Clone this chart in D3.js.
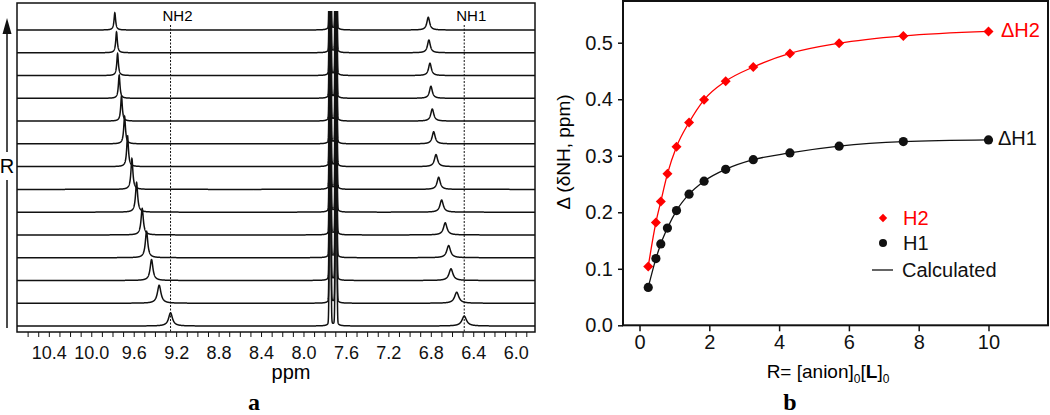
<!DOCTYPE html>
<html>
<head>
<meta charset="utf-8">
<script src="https://cdn.jsdelivr.net/npm/d3@7"></script>
<style>
  body { margin: 0; background: #fff; }
  text { font-family: "Liberation Sans", Arial, sans-serif; }
</style>
</head>
<body>
<div id="chart"></div>
<script>
// ---- panel a : 1H NMR titration spectra (bottom trace = free ligand, R grows upward)
var nh2Shift  = [9.253, 9.360, 9.432, 9.479, 9.520, 9.573, 9.617, 9.658, 9.686, 9.715, 9.737, 9.752, 9.762, 9.778];
var nh2Height = [0.60, 0.82, 0.95, 1.20, 1.20, 1.35, 1.40, 1.40, 1.25, 1.15, 1.05, 1.00, 0.95, 0.78];
var nh2Width  = [0.022, 0.020, 0.016, 0.014, 0.013, 0.012, 0.011, 0.010, 0.010, 0.009, 0.009, 0.009, 0.009, 0.009];
var nh1Shift  = [6.485, 6.556, 6.610, 6.632, 6.664, 6.698, 6.726, 6.751, 6.773, 6.786, 6.799, 6.808, 6.818, 6.824];
var nh1Height = [0.45, 0.50, 0.53, 0.55, 0.55, 0.55, 0.55, 0.55, 0.55, 0.55, 0.55, 0.56, 0.58, 0.58];
var nh1Width  = [0.026, 0.024, 0.022, 0.021, 0.020, 0.019, 0.018, 0.018, 0.017, 0.017, 0.016, 0.016, 0.016, 0.016];
// strong aromatic doublet, the same in every trace (tall narrow core + small broad foot)
var arShift     = [7.749, 7.693];
var arHeight    = 15;
var arSigma     = 0.0056;
var arFoot      = 0.25;
var arFootWidth = 0.016;
var ppmLabels = [10.4, 10.0, 9.6, 9.2, 8.8, 8.4, 8.0, 7.6, 7.2, 6.8, 6.4, 6.0];

// ---- panel b : titration curves
var ratio   = [0.25, 0.47, 0.61, 0.80, 1.06, 1.42, 1.85, 2.47, 3.26, 4.31, 5.72, 7.56, 10.0];
var deltaH2 = [0.104, 0.182, 0.219, 0.268, 0.316, 0.359, 0.399, 0.432, 0.457, 0.481, 0.499, 0.512, 0.520];
var deltaH1 = [0.067, 0.118, 0.144, 0.172, 0.203, 0.232, 0.255, 0.276, 0.293, 0.305, 0.317, 0.325, 0.328];
var xTicks  = [0, 2, 4, 6, 8, 10];
var yTicks  = [0.0, 0.1, 0.2, 0.3, 0.4, 0.5];

var svg = d3.select("#chart").append("svg")
    .attr("width", 1050)
    .attr("height", 415);

// ================= panel a =================
var ax = d3.scaleLinear().domain([10.70, 5.818]).range([17, 535]);
var base = d3.scaleLinear().domain([0, 13]).range([326, 30]);   // baseline of each trace
var amp = d3.scaleLinear().domain([0, 1]).range([0, 22]);        // intensity -> px

svg.append("clipPath").attr("id", "specClip")
    .append("rect").attr("x", 17).attr("y", 11).attr("width", 518).attr("height", 321);

// sample points along ppm axis
var samples = d3.range(17, 535.01, 0.1).map(function (px) { return ax.invert(px); });

function lor(x, c, h, w) {
    var d = (x - c) / w;
    return h / (1 + d * d);
}
function gau(x, c, h, s) {
    var d = (x - c) / s;
    return h * Math.exp(-0.5 * d * d);
}

var spec = svg.append("g").attr("clip-path", "url(#specClip)");

nh2Shift.forEach(function (s, i) {
    var pts = samples.map(function (p) {
        var I = lor(p, s, nh2Height[i], nh2Width[i]) +
                lor(p, nh1Shift[i], nh1Height[i], nh1Width[i]);
        arShift.forEach(function (c) {
            I += gau(p, c, arHeight, arSigma) + lor(p, c, arFoot, arFootWidth);
        });
        return [ax(p), base(i) - amp(I)];
    });
    spec.append("path")
        .attr("d", d3.line()(pts))
        .attr("fill", "none")
        .attr("stroke", "#111")
        .attr("stroke-width", 1.5);
});

// dashed reference lines at free-ligand NH positions
[{ppm: nh2Shift[0], name: "NH2"}, {ppm: nh1Shift[0], name: "NH1"}].forEach(function (d) {
    svg.append("line")
        .attr("x1", ax(d.ppm)).attr("x2", ax(d.ppm))
        .attr("y1", 25).attr("y2", 332)
        .attr("stroke", "#111").attr("stroke-width", 1)
        .attr("stroke-dasharray", "2,1.5");
    svg.append("text")
        .attr("x", ax(d.ppm) - 8).attr("y", 21)
        .style("font-size", "15px")
        .text(d.name);
});

// frame
svg.append("rect")
    .attr("x", 17).attr("y", 3).attr("width", 518).attr("height", 329)
    .attr("fill", "none").attr("stroke", "#111").attr("stroke-width", 1.5);

// bottom axis: minor ticks every 0.1 ppm, labels every 0.4
svg.append("g")
    .attr("transform", "translate(0,332)")
    .call(d3.axisBottom(ax).tickValues(d3.range(59, 107).map(function (v) { return v / 10; }))
        .tickSize(5).tickFormat(""))
    .call(function (g) { g.select(".domain").remove(); g.selectAll("line").attr("stroke", "#111"); });

svg.append("g")
    .attr("transform", "translate(0,332)")
    .call(d3.axisBottom(ax).tickValues(ppmLabels).tickSize(0).tickPadding(14).tickFormat(d3.format(".1f")))
    .call(function (g) {
        g.select(".domain").remove();
        g.selectAll("text").attr("fill", "#111").style("font-size", "18px")
            .style("font-family", "Liberation Sans, Arial, sans-serif");
    });

svg.append("text").attr("x", 291).attr("y", 379).attr("text-anchor", "middle")
    .style("font-size", "20px").text("ppm");

// R arrow on the left
svg.append("line").attr("x1", 7).attr("x2", 7).attr("y1", 30).attr("y2", 152)
    .attr("stroke", "#111").attr("stroke-width", 1.5);
svg.append("line").attr("x1", 7).attr("x2", 7).attr("y1", 180).attr("y2", 328)
    .attr("stroke", "#111").attr("stroke-width", 1.5);
svg.append("path").attr("d", "M7,18 L2.5,34 L11.5,34 Z").attr("fill", "#111");
svg.append("text").attr("x", 7).attr("y", 173).attr("text-anchor", "middle")
    .style("font-size", "20px").text("R");

svg.append("text").attr("x", 254).attr("y", 410).attr("text-anchor", "middle")
    .style("font-family", "Liberation Serif, serif").style("font-weight", "bold")
    .style("font-size", "24px").text("a");

// ================= panel b =================
var bx = d3.scaleLinear().domain([-0.473, 11.705]).range([623, 1048]);
var by = d3.scaleLinear().domain([0, 0.5738]).range([325.3, 1]);

var curve = d3.line()
    .x(function (d) { return bx(d[0]); })
    .y(function (d) { return by(d[1]); })
    .curve(d3.curveMonotoneX);

var h2 = ratio.map(function (r, i) { return [r, deltaH2[i]]; });
var h1 = ratio.map(function (r, i) { return [r, deltaH1[i]]; });

svg.append("path").attr("d", curve(h2)).attr("fill", "none")
    .attr("stroke", "#ff0000").attr("stroke-width", 1.3);
svg.append("path").attr("d", curve(h1)).attr("fill", "none")
    .attr("stroke", "#111").attr("stroke-width", 1.3);

var diamond = d3.symbol().type(d3.symbolDiamond2).size(64);

svg.selectAll("h2pts").data(h2).enter()
    .append("path")
    .attr("d", diamond)
    .attr("transform", function (d) { return "translate(" + bx(d[0]) + "," + by(d[1]) + ")"; })
    .attr("fill", "#ff0000");

svg.selectAll("h1pts").data(h1).enter()
    .append("circle")
    .attr("cx", function (d) { return bx(d[0]); })
    .attr("cy", function (d) { return by(d[1]); })
    .attr("r", 4.6)
    .attr("fill", "#111");

// frame
svg.append("rect")
    .attr("x", 623).attr("y", 1).attr("width", 425).attr("height", 324.3)
    .attr("fill", "none").attr("stroke", "#111").attr("stroke-width", 2);

svg.append("g")
    .attr("transform", "translate(0,325.3)")
    .call(d3.axisBottom(bx).tickValues(xTicks).tickSize(6).tickPadding(4).tickFormat(d3.format("d")))
    .call(function (g) {
        g.select(".domain").remove();
        g.selectAll("line").attr("stroke", "#111").attr("stroke-width", 1.5);
        g.selectAll("text").attr("fill", "#111").style("font-size", "20px")
            .style("font-family", "Liberation Sans, Arial, sans-serif");
    });

svg.append("g")
    .attr("transform", "translate(623,0)")
    .call(d3.axisLeft(by).tickValues(yTicks).tickSize(5).tickPadding(5).tickFormat(d3.format(".1f")))
    .call(function (g) {
        g.select(".domain").remove();
        g.selectAll("line").attr("stroke", "#111").attr("stroke-width", 1.5);
        g.selectAll("text").attr("fill", "#111").style("font-size", "20px")
            .style("font-family", "Liberation Sans, Arial, sans-serif");
    });

// axis titles
var xt = svg.append("text").attr("x", 828).attr("y", 378).attr("text-anchor", "middle")
    .style("font-size", "19px");
xt.append("tspan").text("R= [anion]");
xt.append("tspan").attr("dy", 5).style("font-size", "12px").text("0");
xt.append("tspan").attr("dy", -5).text("[");
xt.append("tspan").style("font-weight", "bold").text("L");
xt.append("tspan").text("]");
xt.append("tspan").attr("dy", 5).style("font-size", "12px").text("0");

svg.append("text")
    .attr("transform", "translate(570,152) rotate(-90)")
    .attr("text-anchor", "middle")
    .style("font-size", "19px")
    .text("\u0394 (\u03b4NH, ppm)");

// curve labels
svg.append("text").attr("x", 1001).attr("y", 37).attr("fill", "#ff0000")
    .style("font-size", "20px").text("\u0394H2");
svg.append("text").attr("x", 998).attr("y", 145).attr("fill", "#111")
    .style("font-size", "20px").text("\u0394H1");

// legend
var leg = svg.append("g");
leg.append("path").attr("d", d3.symbol().type(d3.symbolDiamond2).size(45))
    .attr("transform", "translate(883,218)").attr("fill", "#ff0000");
leg.append("text").attr("x", 903).attr("y", 225).attr("fill", "#ff0000")
    .style("font-size", "20px").text("H2");
leg.append("circle").attr("cx", 883).attr("cy", 243).attr("r", 4).attr("fill", "#111");
leg.append("text").attr("x", 903).attr("y", 250).attr("fill", "#111")
    .style("font-size", "20px").text("H1");
leg.append("line").attr("x1", 872).attr("x2", 893).attr("y1", 270).attr("y2", 270)
    .attr("stroke", "#111").attr("stroke-width", 1.3);
leg.append("text").attr("x", 902).attr("y", 277).attr("fill", "#111")
    .style("font-size", "20px").text("Calculated");

svg.append("text").attr("x", 790).attr("y", 410).attr("text-anchor", "middle")
    .style("font-family", "Liberation Serif, serif").style("font-weight", "bold")
    .style("font-size", "24px").text("b");
</script>
</body>
</html>
